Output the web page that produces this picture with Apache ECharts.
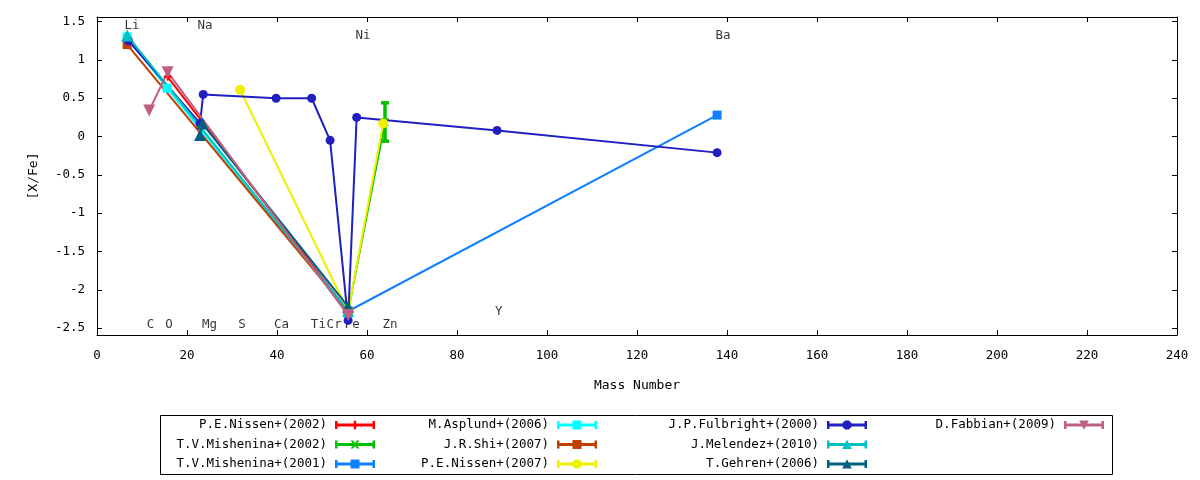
<!DOCTYPE html>
<html>
<head>
<meta charset="utf-8">
<title>[X/Fe] vs Mass Number</title>
<script src="https://cdn.jsdelivr.net/npm/echarts@6/dist/echarts.min.js"></script>
<style>
  html, body { margin: 0; padding: 0; background: #fff; }
  #main { width: 1200px; height: 480px; }
</style>
</head>
<body>
<div id="main"></div>
<script>
// element labels (mass, [X/Fe] position of the text)
var elemNames = ['Li', 'Na', 'Ni', 'Ba', 'C', 'O', 'Mg', 'S', 'Ca', 'Ti', 'Cr', 'Fe', 'Zn', 'Y'];
var elemX     = [7.8, 24.0, 59.1, 139.1, 11.9, 16.0, 25.0, 32.2, 41.0, 49.2, 52.7, 56.7, 65.1, 89.3];
var elemY     = [1.44, 1.44, 1.32, 1.32, -2.45, -2.45, -2.45, -2.45, -2.45, -2.45, -2.45, -2.45, -2.45, -2.29];

// one pair of arrays per paper
var nissen02Mass = [15.7, 55.8];
var nissen02Val  = [0.78, -2.28];
var mish02Mass = [55.8, 64.0];
var mish02Val  = [-2.28, 0.19];
var mish02Err  = [0, 0.25];
var mish01Mass = [55.8, 137.8];
var mish01Val  = [-2.28, 0.28];
var asplundMass = [6.7, 15.6, 55.8];
var asplundVal  = [1.30, 0.63, -2.28];
var shiMass = [6.7, 55.8];
var shiVal  = [1.20, -2.28];
var nissen07Mass = [31.8, 55.8, 63.6];
var nissen07Val  = [0.61, -2.28, 0.17];
var fulbrightMass = [7.0, 22.9, 23.6, 39.8, 47.7, 51.8, 55.8, 57.7, 88.9, 137.8];
var fulbrightVal  = [1.25, 0.17, 0.55, 0.50, 0.50, -0.05, -2.40, 0.25, 0.08, -0.21];
var melendezMass = [6.7, 55.8];
var melendezVal  = [1.32, -2.28];
var gehrenMass = [22.9, 23.4, 55.8];
var gehrenVal  = [0.02, 0.17, -2.22];
var fabbianMass = [11.6, 15.7, 55.8];
var fabbianVal  = [0.34, 0.84, -2.33];

var FONT = 'DejaVu Sans Mono';
var FS = 12.5;

function pairs(xs, ys) {
    return xs.map(function (x, i) { return [x, ys[i]]; });
}

// legend sample: line with end caps + marker in the middle (40x10 box)
var base = 'M0,0H0.01V0.01Z M39.99,9.99H40V10Z M0,1H2.5V3.4H37.5V1H40V9H37.5V6.6H2.5V9H0Z ';
var mk = {
    plus: 'M18.8,0.8H21.2V9.2H18.8Z',
    cross: 'M15.5,1L18,1L20,3.5L22,1L24.5,1L21.2,5L24.5,9L22,9L20,6.5L18,9L15.5,9L18.8,5Z',
    square: 'M15.5,0.5H24.5V9.5H15.5Z',
    circle: 'M18.1,0.5H21.9L24.5,3.1V6.9L21.9,9.5H18.1L15.5,6.9V3.1Z',
    up: 'M20,0.2L24.8,9.5H15.2Z',
    down: 'M15.2,0.5H24.8L20,9.8Z'
};
function icon(m) { return 'path://' + base + mk[m]; }

var plusSym = 'path://M3,0H5V8H3Z M0,3H8V5H0Z';
var crossSym = 'path://M0,0L2,0L4,2.5L6,0L8,0L5,4L8,8L6,8L4,5.5L2,8L0,8L3,4Z';

function lineSeries(name, color, xs, ys, symbol, size, rotate) {
    return {
        name: name,
        type: 'line',
        data: pairs(xs, ys),
        symbol: symbol,
        symbolSize: size,
        symbolRotate: rotate || 0,
        showAllSymbol: true,
        lineStyle: { color: color, width: 2 },
        itemStyle: { color: color, borderWidth: 0 },
        emphasis: { disabled: true },
        animation: false
    };
}

var myChart = echarts.init(document.getElementById('main'));

var legendCommon = {
    orient: 'vertical',
    align: 'right',
    padding: 0,
    itemWidth: 40,
    itemHeight: 10,
    itemGap: 5.5,
    selectedMode: false,
    itemStyle: { borderWidth: 0 },
    textStyle: { fontFamily: FONT, fontSize: FS, color: '#000', lineHeight: 14, padding: [0, 3, 0, 0] }
};
function legend(right, items) {
    return Object.assign({}, legendCommon, {
        right: right,
        top: 418,
        data: items.map(function (it) { return { name: it[0], icon: icon(it[1]) }; })
    });
}

var option = {
    backgroundColor: '#fff',
    animation: false,
    grid: { left: 97, right: 23, top: 17, bottom: 145, containLabel: false },
    graphic: [{
        type: 'rect',
        shape: { x: 160.5, y: 415.5, width: 952, height: 59 },
        style: { fill: 'none', stroke: '#000', lineWidth: 1 },
        silent: true
    }],
    legend: [
        legend(825, [['P.E.Nissen+(2002)', 'plus'], ['T.V.Mishenina+(2002)', 'cross'], ['T.V.Mishenina+(2001)', 'square']]),
        legend(603, [['M.Asplund+(2006)', 'square'], ['J.R.Shi+(2007)', 'square'], ['P.E.Nissen+(2007)', 'circle']]),
        legend(333, [['J.P.Fulbright+(2000)', 'circle'], ['J.Melendez+(2010)', 'up'], ['T.Gehren+(2006)', 'up']]),
        legend(96, [['D.Fabbian+(2009)', 'down']])
    ],
    xAxis: [{
        type: 'value',
        min: 0, max: 240, interval: 20,
        name: 'Mass Number',
        nameLocation: 'middle',
        nameGap: 44,
        nameTextStyle: { fontFamily: FONT, fontSize: 13, color: '#000' },
        axisLine: { show: true, onZero: false, lineStyle: { color: '#000', width: 1 } },
        axisTick: { show: true, inside: true, length: 5, lineStyle: { color: '#000' } },
        axisLabel: { fontFamily: FONT, fontSize: FS, color: '#000', margin: 14 },
        splitLine: { show: false }
    }, {
        type: 'value', position: 'top',
        min: 0, max: 240, interval: 20,
        axisLine: { show: true, onZero: false, lineStyle: { color: '#000', width: 1 } },
        axisTick: { show: true, inside: true, length: 5, lineStyle: { color: '#000' } },
        axisLabel: { show: false },
        splitLine: { show: false }
    }],
    yAxis: [{
        type: 'value',
        min: -2.59, max: 1.56, splitNumber: 8,
        name: '[X/Fe]',
        nameLocation: 'middle',
        nameRotate: 90,
        nameGap: 57,
        nameTextStyle: { fontFamily: FONT, fontSize: 13, color: '#000' },
        axisLine: { show: true, onZero: false, lineStyle: { color: '#000', width: 1 } },
        axisTick: { show: true, inside: true, length: 5, lineStyle: { color: '#000' } },
        axisLabel: { fontFamily: FONT, fontSize: FS, color: '#000', margin: 12, showMinLabel: false, showMaxLabel: false },
        splitLine: { show: false }
    }, {
        type: 'value', position: 'right',
        min: -2.59, max: 1.56, splitNumber: 8,
        axisLine: { show: true, onZero: false, lineStyle: { color: '#000', width: 1 } },
        axisTick: { show: true, inside: true, length: 5, lineStyle: { color: '#000' } },
        axisLabel: { show: false },
        splitLine: { show: false }
    }],
    series: [
        {
            name: 'elements',
            type: 'scatter',
            silent: true,
            symbolSize: 1,
            itemStyle: { color: 'transparent' },
            data: elemNames.map(function (n, i) { return [elemX[i], elemY[i], n]; }),
            label: {
                show: true,
                position: 'inside',
                formatter: function (p) { return p.value[2]; },
                fontFamily: FONT, fontSize: FS, color: '#000'
            },
            emphasis: { disabled: true }
        },
        lineSeries('P.E.Nissen+(2002)', '#ff0000', nissen02Mass, nissen02Val, plusSym, 8),
        lineSeries('T.V.Mishenina+(2002)', '#00c000', mish02Mass, mish02Val, crossSym, 8),
        {
            name: 'mish02err',
            type: 'custom',
            silent: true,
            data: mish02Mass.map(function (m, i) { return [m, mish02Val[i], mish02Err[i]]; }),
            renderItem: function (params, api) {
                var x = api.value(0), y = api.value(1), e = api.value(2);
                if (!e) { return null; }
                var top = api.coord([x, y + e]);
                var bot = api.coord([x, y - e]);
                var st = { stroke: '#00c000', lineWidth: 3.5 };
                return {
                    type: 'group',
                    children: [
                        { type: 'line', shape: { x1: top[0], y1: top[1], x2: bot[0], y2: bot[1] }, style: st },
                        { type: 'line', shape: { x1: top[0] - 4, y1: top[1], x2: top[0] + 4, y2: top[1] }, style: st },
                        { type: 'line', shape: { x1: bot[0] - 4, y1: bot[1], x2: bot[0] + 4, y2: bot[1] }, style: st }
                    ]
                };
            }
        },
        lineSeries('T.V.Mishenina+(2001)', '#1080ff', mish01Mass, mish01Val, 'rect', 9),
        lineSeries('M.Asplund+(2006)', '#00ffff', asplundMass, asplundVal, 'rect', 9),
        lineSeries('J.R.Shi+(2007)', '#c04000', shiMass, shiVal, 'rect', 9),
        lineSeries('P.E.Nissen+(2007)', '#f0f000', nissen07Mass, nissen07Val, 'circle', 10),
        lineSeries('J.P.Fulbright+(2000)', '#2020c0', fulbrightMass, fulbrightVal, 'circle', 9),
        lineSeries('J.Melendez+(2010)', '#00c0c0', melendezMass, melendezVal, 'triangle', 12),
        lineSeries('T.Gehren+(2006)', '#006080', gehrenMass, gehrenVal, 'triangle', 12),
        lineSeries('D.Fabbian+(2009)', '#c06080', fabbianMass, fabbianVal, 'triangle', 12, 180)
    ]
};

myChart.setOption(option);
</script>
</body>
</html>
